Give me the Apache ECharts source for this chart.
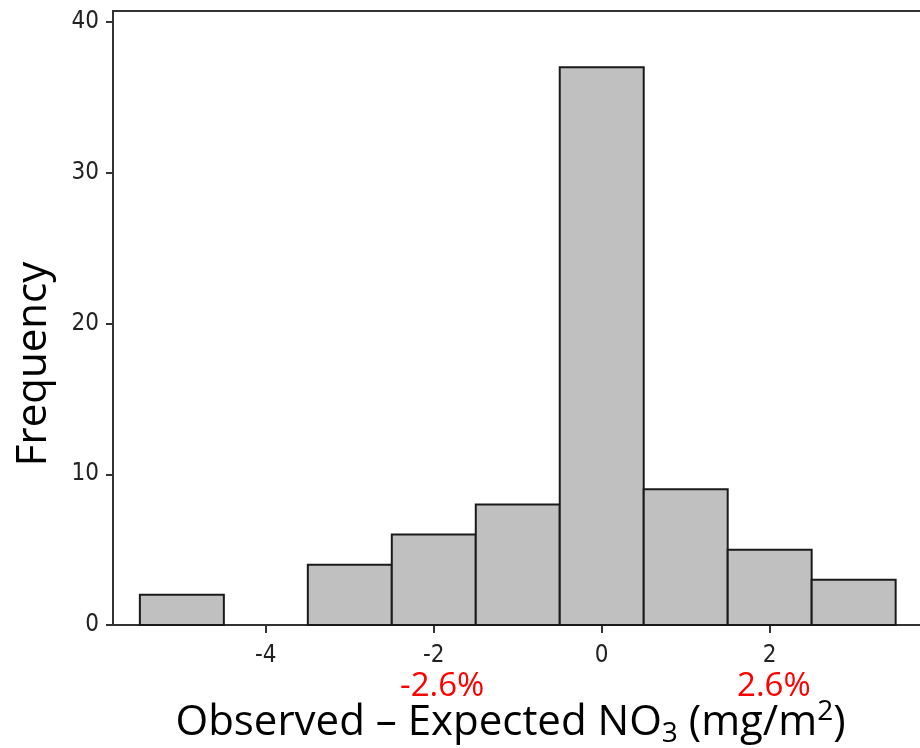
<!DOCTYPE html>
<html>
<head>
<meta charset="utf-8">
<script src="https://cdn.jsdelivr.net/npm/echarts@6/dist/echarts.min.js"></script>
<style>
html,body{margin:0;padding:0;background:#fff;}
#chart{width:920px;height:748px;}
</style>
</head>
<body>
<div id="chart"></div>
<script>
// Histogram bin centers (Observed - Expected NO3, mg/m2)
const binCenters = [-5, -4, -3, -2, -1, 0, 1, 2, 3];
// Frequencies
const frequencies = [2, 0, 4, 6, 8, 37, 9, 5, 3];
// Axis ticks
const xTicks = [-4, -2, 0, 2];
const yTicks = [0, 10, 20, 30, 40];
// Red annotations under the axis
const notePositions = [-1.9, 2.05];
const noteLabels = ['-2.6%', '2.6%'];

const binWidth = 1;
const xMin = -5.82, xMax = 3.79;
const yMin = 0, yMax = 40.73;

const tickFont = "'Liberation Sans Narrow', 'DejaVu Sans Condensed', sans-serif";
const titleFont = "'Open Sans', 'Noto Sans', sans-serif";

const chart = echarts.init(document.getElementById('chart'), null, {renderer: 'canvas'});

const noteMap = {};
notePositions.forEach((p, i) => { noteMap[p] = noteLabels[i]; });

chart.setOption({
  animation: false,
  backgroundColor: '#fff',
  grid: {left: 113, right: 0, top: 11, bottom: 123, containLabel: false, outerBoundsMode: 'none'},
  xAxis: [
    {
      type: 'value', min: xMin, max: xMax, position: 'bottom',
      splitLine: {show: false},
      axisLine: {show: true, onZero: false, lineStyle: {color: '#333', width: 2}},
      axisTick: {show: true, length: 8, customValues: xTicks, lineStyle: {color: '#333', width: 2}},
      axisLabel: {customValues: xTicks, color: '#222', fontFamily: tickFont, fontSize: 24, margin: 19},
      name: '{t|Observed – Expected NO}{sub|3}{t| (mg/m}{sup|2}{t|)}',
      nameLocation: 'middle',
      nameGap: 73,
      nameTextStyle: {
        padding: [0, 12, 0, 0],
        rich: {
          t: {fontFamily: titleFont, fontSize: 42, color: '#000', lineHeight: 50, verticalAlign: 'middle'},
          sub: {fontFamily: titleFont, fontSize: 28, color: '#000', lineHeight: 50, verticalAlign: 'bottom', padding: [18, 0, 0, 0]},
          sup: {fontFamily: titleFont, fontSize: 28, color: '#000', lineHeight: 50, verticalAlign: 'top', padding: [0, 0, 14, 0]}
        }
      }
    },
    {
      type: 'value', min: xMin, max: xMax, position: 'bottom', offset: 0,
      splitLine: {show: false},
      axisLine: {show: false},
      axisTick: {show: false},
      axisLabel: {
        customValues: notePositions,
        color: '#ff0000', fontFamily: titleFont, fontSize: 33, margin: 45,
        formatter: v => noteMap[v] || ''
      }
    },
    {
      type: 'value', min: xMin, max: xMax, position: 'top',
      splitLine: {show: false},
      axisLine: {show: true, onZero: false, lineStyle: {color: '#333', width: 2}},
      axisTick: {show: false},
      axisLabel: {show: false}
    }
  ],
  yAxis: {
    type: 'value', min: yMin, max: yMax,
    splitLine: {show: false},
    axisLine: {show: true, onZero: false, lineStyle: {color: '#333', width: 2}},
    axisTick: {show: true, length: 7, customValues: yTicks, lineStyle: {color: '#333', width: 2}},
    axisLabel: {customValues: yTicks, color: '#222', fontFamily: tickFont, fontSize: 24, margin: 14},
    name: 'Frequency',
    nameLocation: 'middle',
    nameRotate: 90,
    nameGap: 58,
    nameTextStyle: {fontFamily: titleFont, fontSize: 42, color: '#000', padding: [0, 92, 0, 0]}
  },
  series: [{
    type: 'custom',
    xAxisIndex: 0,
    data: binCenters.map((c, i) => [c, frequencies[i]]),
    renderItem: function (params, api) {
      const c = api.value(0), f = api.value(1);
      if (!f) return null;
      const p1 = api.coord([c - binWidth / 2, f]);
      const p2 = api.coord([c + binWidth / 2, 0]);
      return {
        type: 'rect',
        shape: {x: p1[0], y: p1[1], width: p2[0] - p1[0], height: p2[1] - p1[1]},
        style: {fill: '#c0c0c0', stroke: '#1a1a1a', lineWidth: 2}
      };
    }
  }]
});
</script>
</body>
</html>
